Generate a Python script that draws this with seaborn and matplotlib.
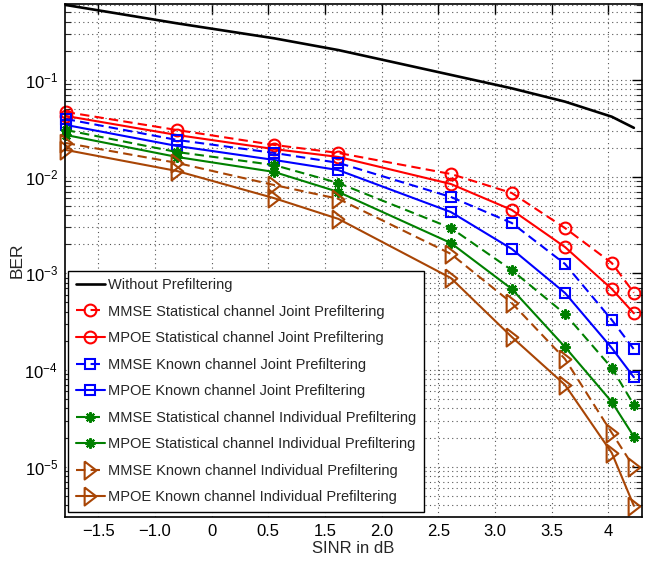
import numpy as np
import pandas as pd
import matplotlib
matplotlib.use("Agg")
import matplotlib.pyplot as plt
import seaborn as sns

# ---------------- data ----------------
tick_labels = ["\u22121.5", "\u22121.0", "0", "0.5", "1.5", "2.0", "2.5", "3.0", "3.5", "4"]
# x positions of data points in tick units (axis is drawn with the tick labels above)
sinr_x = [-0.575, 1.383, 3.10, 4.235, 6.22, 7.295, 8.235, 9.06, 9.45]

ber_without = [0.597, 0.386, 0.27, 0.204, 0.113, 0.082, 0.0597, 0.0417, 0.032]
ber_mmse_stat_joint = [0.0467, 0.0304, 0.0213, 0.0176, 0.01066, 0.00678, 0.00294, 0.00128, 0.00063]
ber_mpoe_stat_joint = [0.0425, 0.0270, 0.0193, 0.0160, 0.0084, 0.00453, 0.00187, 0.00069, 0.000386]
ber_mmse_known_joint = [0.0395, 0.0240, 0.0176, 0.0139, 0.00617, 0.00332, 0.00125, 0.00033, 0.000164]
ber_mpoe_known_joint = [0.0343, 0.0208, 0.0149, 0.0117, 0.00431, 0.00179, 0.000627, 0.000169, 8.43e-5]
ber_mmse_stat_ind = [0.0304, 0.0180, 0.0132, 0.0086, 0.00295, 0.00108, 0.00038, 0.000105, 4.36e-5]
ber_mpoe_stat_ind = [0.0270, 0.0160, 0.0112, 0.00695, 0.00206, 0.00069, 0.000173, 4.68e-5, 2.05e-5]
ber_mmse_known_ind = [0.0223, 0.0139, 0.0082, 0.0059, 0.00159, 0.000494, 0.00013, 2.24e-5, 9.89e-6]
ber_mpoe_known_ind = [0.0189, 0.01146, 0.0060, 0.00366, 0.000895, 0.00022, 7.02e-5, 1.39e-5, 3.94e-6]

labels = [
    "Without Prefiltering",
    "MMSE Statistical channel Joint Prefiltering",
    "MPOE Statistical channel Joint Prefiltering",
    "MMSE Known channel Joint Prefiltering",
    "MPOE Known channel Joint Prefiltering",
    "MMSE Statistical channel Individual Prefiltering",
    "MPOE Statistical channel Individual Prefiltering",
    "MMSE Known channel Individual Prefiltering",
    "MPOE Known channel Individual Prefiltering",
]
series = [ber_without, ber_mmse_stat_joint, ber_mpoe_stat_joint, ber_mmse_known_joint,
          ber_mpoe_known_joint, ber_mmse_stat_ind, ber_mpoe_stat_ind,
          ber_mmse_known_ind, ber_mpoe_known_ind]

df = pd.DataFrame({
    "SINR": np.tile(sinr_x, len(labels)),
    "BER": np.concatenate(series),
    "Scheme": np.repeat(labels, len(sinr_x)),
})

# ---------------- style ----------------
sns.set_style("white")
plt.rcParams["font.family"] = ["Liberation Sans", "DejaVu Sans"]
plt.rcParams["mathtext.fontset"] = "custom"
plt.rcParams["mathtext.rm"] = "Liberation Sans"
plt.rcParams["mathtext.it"] = "Liberation Sans"

red = (1.0, 0.0, 0.0)
blue = (0.0, 0.0, 1.0)
green = (0.0, 0.5, 0.0)
brown = (0.66, 0.27, 0.02)
dash = (0, (4.5, 2.5))
tri = [(-0.65, 1.0), (-0.65, -1.0), (0.65, 0.0), (-0.65, 1.0)]
aster = (8, 2, 0)

styles = [
    dict(color="black", ls="-", marker=None, ms=0, lw=1.9),
    dict(color=red, ls=dash, marker="o", ms=8.5, lw=1.5),
    dict(color=red, ls="-", marker="o", ms=8.5, lw=1.5),
    dict(color=blue, ls=dash, marker="s", ms=6.5, lw=1.5),
    dict(color=blue, ls="-", marker="s", ms=6.5, lw=1.5),
    dict(color=green, ls=dash, marker=aster, ms=7.5, lw=1.5),
    dict(color=green, ls="-", marker=aster, ms=7.5, lw=1.5),
    dict(color=brown, ls=dash, marker=tri, ms=13, lw=1.5),
    dict(color=brown, ls="-", marker=tri, ms=13, lw=1.5),
]

fig = plt.figure(figsize=(6.57, 5.62), dpi=100)
ax = fig.add_axes([0.0989, 0.0806, 0.8778, 0.9123])

for lab, st in zip(labels, styles):
    sub = df[df["Scheme"] == lab]
    kw = dict(color=st["color"], linestyle=st["ls"], linewidth=st["lw"], label=lab,
              legend=False, ax=ax, errorbar=None, sort=False)
    if st["marker"] is not None:
        kw.update(marker=st["marker"], markersize=st["ms"], markerfacecolor="none",
                  markeredgecolor=st["color"], markeredgewidth=1.5)
    sns.lineplot(data=sub, x="SINR", y="BER", **kw)

for ln in ax.get_lines():
    ln.set_clip_on(False)

ax.set_yscale("log")
ax.set_xlim(-0.588, 9.588)
ax.set_ylim(3.04e-6, 0.611)
ax.set_xticks(range(len(tick_labels)))
ax.set_xticklabels(tick_labels)
ax.yaxis.set_major_locator(matplotlib.ticker.LogLocator(base=10))
ax.yaxis.set_minor_locator(matplotlib.ticker.LogLocator(base=10, subs=np.arange(2, 10)))

ax.grid(True, which="major", axis="x", color="#555555", linestyle=(0, (1, 3)), linewidth=0.8)
ax.grid(True, which="both", axis="y", color="#555555", linestyle=(0, (1, 3)), linewidth=0.8)
ax.set_axisbelow(True)

ax.tick_params(axis="both", which="major", direction="in", length=7, width=1,
               top=True, right=True, labelsize=12, colors="black", pad=5)
ax.tick_params(axis="y", which="minor", direction="in", length=4, width=0.8,
               left=True, right=True)
for sp in ax.spines.values():
    sp.set_color("black")
    sp.set_linewidth(1.2)

ax.set_xlabel("SINR in dB", fontsize=12, labelpad=2)
ax.set_ylabel("BER", fontsize=12.5, labelpad=0)

leg = ax.legend(loc="lower left", bbox_to_anchor=(0.0057, 0.0098), borderaxespad=0,
                fontsize=10.5, labelspacing=0.86, borderpad=0.5, handlelength=2.0,
                handletextpad=0.25, numpoints=1, fancybox=False, framealpha=1,
                edgecolor="black")
leg.get_frame().set_linewidth(1.0)

fig.savefig("out.png", dpi=100)
